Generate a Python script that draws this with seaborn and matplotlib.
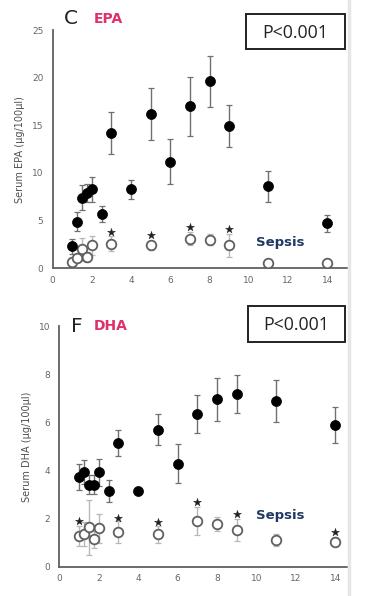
import matplotlib
matplotlib.use("Agg")
import matplotlib.pyplot as plt
import seaborn as sns
import pandas as pd
from matplotlib.patches import Rectangle
from matplotlib.lines import Line2D
from matplotlib.ticker import MultipleLocator

# ---- data ----
days_ctrl = [1, 1.25, 1.5, 1.75, 2, 2.5, 3, 4, 5, 6, 7, 8, 9, 11, 14]
days_sep = [1, 1.25, 1.5, 1.75, 2, 3, 5, 7, 8, 9, 11, 14]

epa_ctrl = [2.3, 4.9, 7.4, 7.9, 8.3, 5.7, 14.2, 8.3, 16.2, 11.2, 17.0, 19.6, 14.9, 8.6, 4.7]
epa_ctrl_err = [0.8, 1.0, 1.3, 0.9, 1.3, 0.8, 2.2, 1.0, 2.7, 2.4, 3.1, 2.7, 2.2, 1.6, 0.9]
epa_sep = [0.7, 1.1, 2.0, 1.2, 2.4, 2.6, 2.4, 3.1, 3.0, 2.4, 0.6, 0.6]
epa_sep_err = [0.3, 0.4, 1.2, 0.5, 1.0, 0.8, 0.5, 0.7, 0.6, 1.2, 0.2, 0.2]
epa_star_x = [3, 5, 7, 9]
epa_star_y = [3.8, 3.5, 4.3, 4.1]

dha_ctrl = [3.72, 3.92, 3.40, 3.40, 3.92, 3.14, 5.14, 3.14, 5.7, 4.28, 6.35, 6.95, 7.18, 6.88, 5.9]
dha_ctrl_err = [0.55, 0.5, 0.4, 0.4, 0.55, 0.45, 0.56, 0.05, 0.65, 0.8, 0.8, 0.88, 0.8, 0.88, 0.75]
dha_sep = [1.28, 1.36, 1.64, 1.14, 1.6, 1.43, 1.35, 1.88, 1.77, 1.53, 1.09, 1.04]
dha_sep_err = [0.4, 0.5, 1.15, 0.35, 0.6, 0.45, 0.35, 0.58, 0.3, 0.45, 0.25, 0.2]
dha_star_x = [1, 3, 5, 7, 9, 14]
dha_star_y = [1.88, 2.01, 1.84, 2.68, 2.2, 1.46]

x_ticks = [0, 2, 4, 6, 8, 10, 12, 14]
panel_letters = ["C", "F"]
panel_names = ["EPA", "DHA"]
y_labels = ["Serum EPA (µg/100µl)", "Serum DHA (µg/100µl)"]
p_text = "P<0.001"
group_label = "Sepsis"

sns.set_style("white")
plt.rcParams['font.family'] = ['DejaVu Sans']

fig = plt.figure(figsize=(3.74, 5.96), dpi=100)
W, H = 374, 596

def fx(px):
    return px / W

def fy(py):
    return 1 - py / H

ax1 = fig.add_axes([fx(52.5), fy(268.3), fx(347) - fx(52.5), fy(30) - fy(268.3)])
ax2 = fig.add_axes([fx(59.3), fy(566.7), fx(347) - fx(59.3), fy(326) - fy(566.7)])

panels = [
    (ax1, epa_ctrl, epa_ctrl_err, epa_sep, epa_sep_err, epa_star_x, epa_star_y, (0, 15), (0, 25), 5, 2.5),
    (ax2, dha_ctrl, dha_ctrl_err, dha_sep, dha_sep_err, dha_star_x, dha_star_y, (0, 14.6), (0, 10), 2, 1),
]

for i, (ax, yc, ec, ys, es, sx, sy, xl, yl, ymaj, ymin) in enumerate(panels):
    ax.errorbar(days_sep, ys, yerr=es, fmt="none", ecolor="#b8b8b8",
                elinewidth=1.0, capsize=2, capthick=0.9, zorder=2)
    ax.errorbar(days_ctrl, yc, yerr=ec, fmt="none", ecolor="#707070",
                elinewidth=1.0, capsize=2, capthick=0.9, zorder=2)
    dfc = pd.DataFrame({"day": days_ctrl, "val": yc})
    dfs = pd.DataFrame({"day": days_sep, "val": ys})
    sns.scatterplot(data=dfs, x="day", y="val", ax=ax, s=48, color="white",
                    edgecolor="#606060", linewidth=1.3, zorder=3)
    sns.scatterplot(data=dfc, x="day", y="val", ax=ax, s=52, color="black",
                    edgecolor="black", linewidth=0.5, zorder=4)
    dfst = pd.DataFrame({"day": sx, "val": sy})
    sns.scatterplot(data=dfst, x="day", y="val", ax=ax, marker="*", s=36,
                    color="#222222", edgecolor="#222222", linewidth=0.3, zorder=4)

    ax.set_xlim(*xl)
    ax.set_ylim(*yl)
    ax.set_xticks(x_ticks)
    ax.xaxis.set_minor_locator(MultipleLocator(1))
    ax.yaxis.set_major_locator(MultipleLocator(ymaj))
    ax.yaxis.set_minor_locator(MultipleLocator(ymin))
    ax.set_xlabel("")
    ax.set_ylabel(y_labels[i], fontsize=7, color="#505050", labelpad=5)
    for s in ["top", "right"]:
        ax.spines[s].set_visible(False)
    for s in ["left", "bottom"]:
        ax.spines[s].set_color("#606060")
        ax.spines[s].set_linewidth(1.3)
    ax.tick_params(axis="both", which="major", labelsize=6.5, labelcolor="#666666",
                   color="#606060", length=3, width=1, direction="out")
    ax.tick_params(axis="x", which="major", direction="inout", length=4)
    ax.tick_params(axis="both", which="minor", color="#606060", length=2, width=0.8,
                   direction="out")
    ax.tick_params(axis="x", which="minor", direction="inout", length=3)
    ax.set_facecolor("none")

# Titles & annotations
fig.text(fx(64), fy(18), panel_letters[0], fontsize=14.5, color="#222222", va="center", ha="left")
fig.text(fx(94), fy(19), panel_names[0], fontsize=10, color="#e0306a", fontweight="bold",
         va="center", ha="left")
fig.text(fx(71), fy(326), panel_letters[1], fontsize=14.5, color="#222222", va="center", ha="left")
fig.text(fx(94), fy(326), panel_names[1], fontsize=10, color="#e0306a", fontweight="bold",
         va="center", ha="left")

for (x0, y0, x1, y1) in [(246, 14, 345, 49), (248, 306, 345, 342)]:
    fig.patches.append(Rectangle((fx(x0), fy(y1)), fx(x1) - fx(x0), fy(y0) - fy(y1),
                                 transform=fig.transFigure, fill=True, facecolor="white",
                                 edgecolor="#222222", linewidth=1.4))
    fig.text(fx((x0 + x1) / 2), fy((y0 + y1) / 2 + 1), p_text, fontsize=12.8,
             color="#222222", ha="center", va="center", family=["Open Sans", "DejaVu Sans"])

fig.text(fx(280), fy(243), group_label, fontsize=9.5, color="#1f3864", fontweight="bold",
         ha="center", va="center")
fig.text(fx(280), fy(515), group_label, fontsize=9.5, color="#1f3864", fontweight="bold",
         ha="center", va="center")

# faint right border line
fig.add_artist(Line2D([fx(348.5), fx(348.5)], [0, 1], transform=fig.transFigure,
                      color="#e6e6e6", linewidth=2.5))

fig.savefig("out.png", dpi=100)
